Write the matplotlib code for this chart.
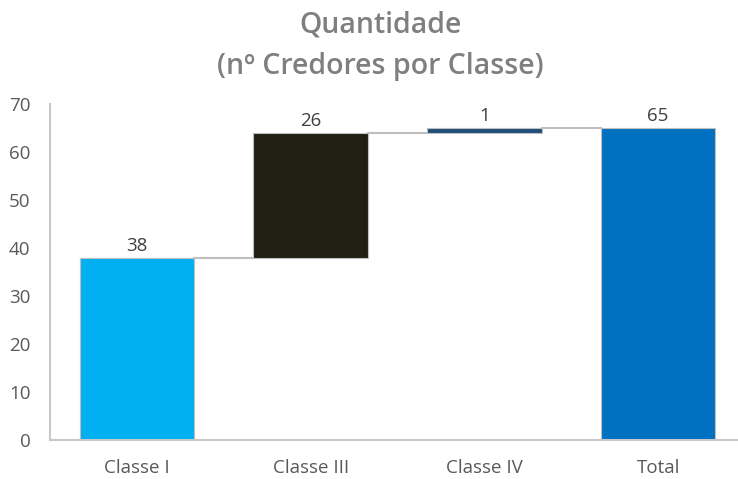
import matplotlib.pyplot as plt

# Waterfall data (nº de credores por classe)
categories = ['Classe I', 'Classe III', 'Classe IV', 'Total']
values = [38, 26, 1, 65]
is_total = [False, False, False, True]
colors = ['#00B0F0', '#201F14', '#1F4E79', '#0070C0']
yticks = [0, 10, 20, 30, 40, 50, 60, 70]

plt.rcParams['font.family'] = ['Open Sans', 'DejaVu Sans']

fig = plt.figure(figsize=(7.38, 4.79), dpi=100)
ax = fig.add_axes([50 / 738, 1 - 440 / 479, (745 - 50) / 738, (440 - 104) / 479])

width = 0.66
running = 0
tops = []
for i, (v, tot) in enumerate(zip(values, is_total)):
    b = 0 if tot else running
    tops.append(b + v)
    if not tot:
        running += v
    ax.bar(i, v, bottom=b, width=width, color=colors[i],
           edgecolor='#BFBFBF', linewidth=0.8, zorder=2)
    ax.text(i, b + v + 0.6, str(v), ha='center', va='bottom',
            fontsize=13.5, color='#404040')

# connector lines between bars
for i in range(len(values) - 1):
    level = tops[i]
    ax.plot([i + width / 2, i + 1 - width / 2], [level, level],
            color='#BFBFBF', linewidth=1.5, zorder=1)

ax.set_xlim(-0.5, 3.5)
ax.set_ylim(0, 70)
ax.set_yticks(yticks)
ax.set_xticks(range(len(categories)))
ax.set_xticklabels(categories)
ax.tick_params(length=0, colors='#595959', labelsize=13.5)
ax.tick_params(axis='x', pad=14)
ax.tick_params(axis='y', pad=14)

for s in ['top', 'right']:
    ax.spines[s].set_visible(False)
for s in ['left', 'bottom']:
    ax.spines[s].set_color('#C8C8C8')
    ax.spines[s].set_linewidth(1.5)

fig.text(0.515, 0.978, 'Quantidade\n(nº Credores por Classe)', ha='center', va='top',
         fontsize=20.5, color='#7F7F7F', linespacing=1.55, fontweight='semibold')

plt.savefig('out.png', dpi=100)
